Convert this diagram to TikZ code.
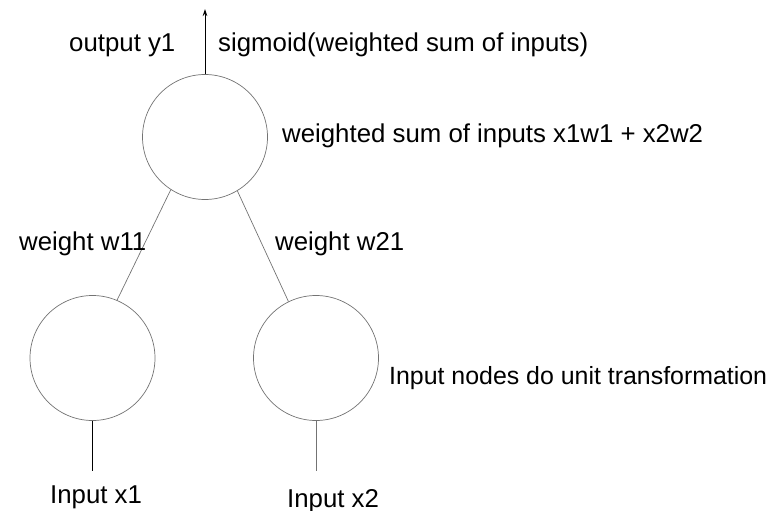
\documentclass[tikz,border=0pt]{standalone}
\usepackage{fontspec}
\setmainfont{Liberation Sans}
\usetikzlibrary{arrows.meta}
\begin{document}
\begin{tikzpicture}[x=1pt,y=-1pt,
  neuron/.style={circle,draw=black!55,line width=0.7pt,minimum size=125pt,inner sep=0pt},
  link/.style={draw=black!55,line width=0.7pt},
  lbl/.style={inner sep=0pt,anchor=base west,font=\fontsize{25.8}{30}\selectfont}]
\useasboundingbox (0,0) rectangle (779,511);
% neurons
\node[neuron] (out) at (205,137) {};
\node[neuron] (in1) at (92.5,358) {};
\node[neuron] (in2) at (316,358) {};
% free ends of the input and output lines
\coordinate (top) at (204,9);
\coordinate (x1end) at (89,471);
\coordinate (x2end) at (320,471);
% connectors
\draw[line width=0.8pt,-{Stealth[length=7pt,width=4.5pt]}] (out.north) -- (out.north |- top);
\draw[link] (out.-123) -- (in1.67);
\draw[link] (out.-59) -- (in2.116);
\draw[line width=1pt] (in1.south) -- (in1.south |- x1end);
\draw[link] (in2.south) -- (in2.south |- x2end);
% labels
\node[lbl] (ly) at (69,52) {output y1};
\node[lbl] (lsig) at (218,52) {sigmoid(weighted sum of inputs)};
\node[lbl] (lsum) at (282,142) {weighted sum of inputs x1w1 + x2w2};
\node[lbl] (lw11) at (19,250) {weight w11};
\node[lbl] (lw21) at (275,250) {weight w21};
\node[lbl,font=\fontsize{24.9}{29}\selectfont] (lunit) at (389,384) {Input nodes do unit transformation};
\node[lbl] (lx1) at (50,503) {Input x1};
\node[lbl] (lx2) at (287,507) {Input x2};
\end{tikzpicture}
\end{document}
